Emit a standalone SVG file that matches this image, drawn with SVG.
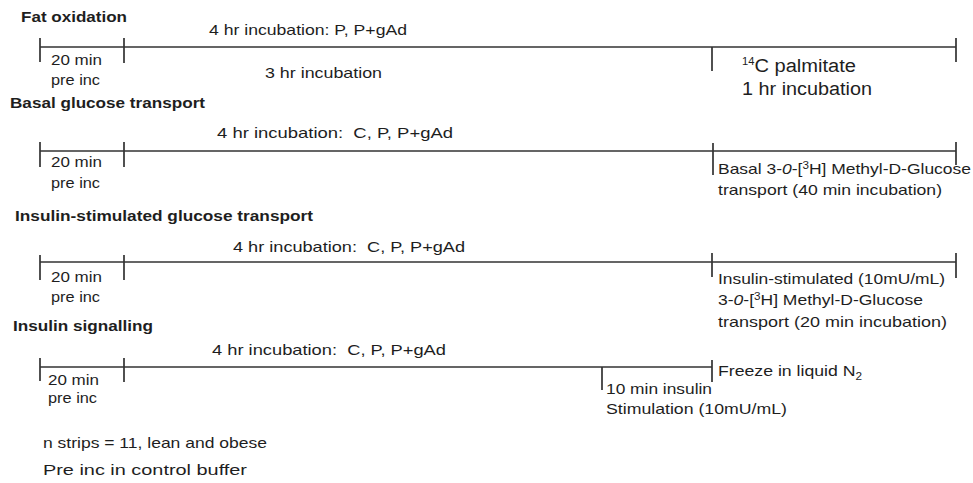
<svg xmlns="http://www.w3.org/2000/svg" width="973" height="483" viewBox="0 0 973 483">
<style>
.t{font-family:"Liberation Sans",Arial,Helvetica,sans-serif;font-size:15px;fill:#1e1e1e;white-space:pre}
.b{font-weight:bold;font-size:15px}
.l{font-size:18px}
.ln{stroke:#333;stroke-width:1.7;fill:none}
.sup{font-size:10px}
</style>
<rect width="973" height="483" fill="#fff"/>
<g id="fat-oxidation">
<text class="t b" x="21" y="22" textLength="106" lengthAdjust="spacingAndGlyphs">Fat oxidation</text>
<text class="t" x="209" y="35" textLength="198" lengthAdjust="spacingAndGlyphs">4 hr incubation: P, P+gAd</text>
<text class="t" x="51" y="65" textLength="51" lengthAdjust="spacingAndGlyphs">20 min</text>
<text class="t" x="51" y="85" textLength="49" lengthAdjust="spacingAndGlyphs">pre inc</text>
<text class="t" x="265" y="78" textLength="117" lengthAdjust="spacingAndGlyphs">3 hr incubation</text>
<text class="t l" x="742" y="72" textLength="114" lengthAdjust="spacingAndGlyphs"><tspan class="sup" dy="-7">14</tspan><tspan dy="7">C palmitate</tspan></text>
<text class="t l" x="742" y="95" textLength="130" lengthAdjust="spacingAndGlyphs">1 hr incubation</text>
</g>
<g id="basal-glucose-transport">
<text class="t b" x="10" y="108" textLength="195" lengthAdjust="spacingAndGlyphs">Basal glucose transport</text>
<text class="t" x="217" y="138" textLength="236" lengthAdjust="spacingAndGlyphs">4 hr incubation:  C, P, P+gAd</text>
<text class="t" x="51" y="167" textLength="51" lengthAdjust="spacingAndGlyphs">20 min</text>
<text class="t" x="51" y="188" textLength="49" lengthAdjust="spacingAndGlyphs">pre inc</text>
<text class="t" x="718" y="174" textLength="253" lengthAdjust="spacingAndGlyphs">Basal 3-<tspan font-style="italic">0</tspan>-[<tspan class="sup" dy="-5">3</tspan><tspan dy="5">H] Methyl-D-Glucose</tspan></text>
<text class="t" x="718" y="195" textLength="224" lengthAdjust="spacingAndGlyphs">transport (40 min incubation)</text>
</g>
<g id="insulin-stimulated-glucose-transport">
<text class="t b" x="15" y="221" textLength="298" lengthAdjust="spacingAndGlyphs">Insulin-stimulated glucose transport</text>
<text class="t" x="233" y="252" textLength="232" lengthAdjust="spacingAndGlyphs">4 hr incubation:  C, P, P+gAd</text>
<text class="t" x="51" y="282" textLength="51" lengthAdjust="spacingAndGlyphs">20 min</text>
<text class="t" x="51" y="302" textLength="49" lengthAdjust="spacingAndGlyphs">pre inc</text>
<text class="t" x="718" y="284" textLength="227" lengthAdjust="spacingAndGlyphs">Insulin-stimulated (10mU/mL)</text>
<text class="t" x="718" y="305" textLength="205" lengthAdjust="spacingAndGlyphs">3-<tspan font-style="italic">0</tspan>-[<tspan class="sup" dy="-5">3</tspan><tspan dy="5">H] Methyl-D-Glucose</tspan></text>
<text class="t" x="718" y="327" textLength="229" lengthAdjust="spacingAndGlyphs">transport (20 min incubation)</text>
</g>
<g id="insulin-signalling">
<text class="t b" x="13" y="331" textLength="140" lengthAdjust="spacingAndGlyphs">Insulin signalling</text>
<text class="t" x="212" y="355" textLength="234" lengthAdjust="spacingAndGlyphs">4 hr incubation:  C, P, P+gAd</text>
<text class="t" x="48" y="385" textLength="51" lengthAdjust="spacingAndGlyphs">20 min</text>
<text class="t" x="48" y="403" textLength="49" lengthAdjust="spacingAndGlyphs">pre inc</text>
<text class="t" x="606" y="394" textLength="106" lengthAdjust="spacingAndGlyphs">10 min insulin</text>
<text class="t" x="606" y="414" textLength="181" lengthAdjust="spacingAndGlyphs">Stimulation (10mU/mL)</text>
<text class="t" x="718" y="376" textLength="144" lengthAdjust="spacingAndGlyphs">Freeze in liquid N<tspan class="sup" dy="4">2</tspan></text>
</g>
<g id="notes">
<text class="t" x="43" y="448" textLength="224" lengthAdjust="spacingAndGlyphs">n strips = 11, lean and obese</text>
<text class="t" x="43" y="475" textLength="204" lengthAdjust="spacingAndGlyphs">Pre inc in control buffer</text>
</g>
<g id="connectors" class="ln">
<path d="M40 47H956M40 38V62M124 38V63M712 47V71M956 38V62"/>
<path d="M40 151H956M40 142V167M124 142V167M713 143V175M956 142V165"/>
<path d="M40 262H956M40 255V280M124 255V280M712 253V277M956 253V278"/>
<path d="M40 367H712M40 358V381M124 358V382M712 360V382M602 367V390"/>
</g>
</svg>
